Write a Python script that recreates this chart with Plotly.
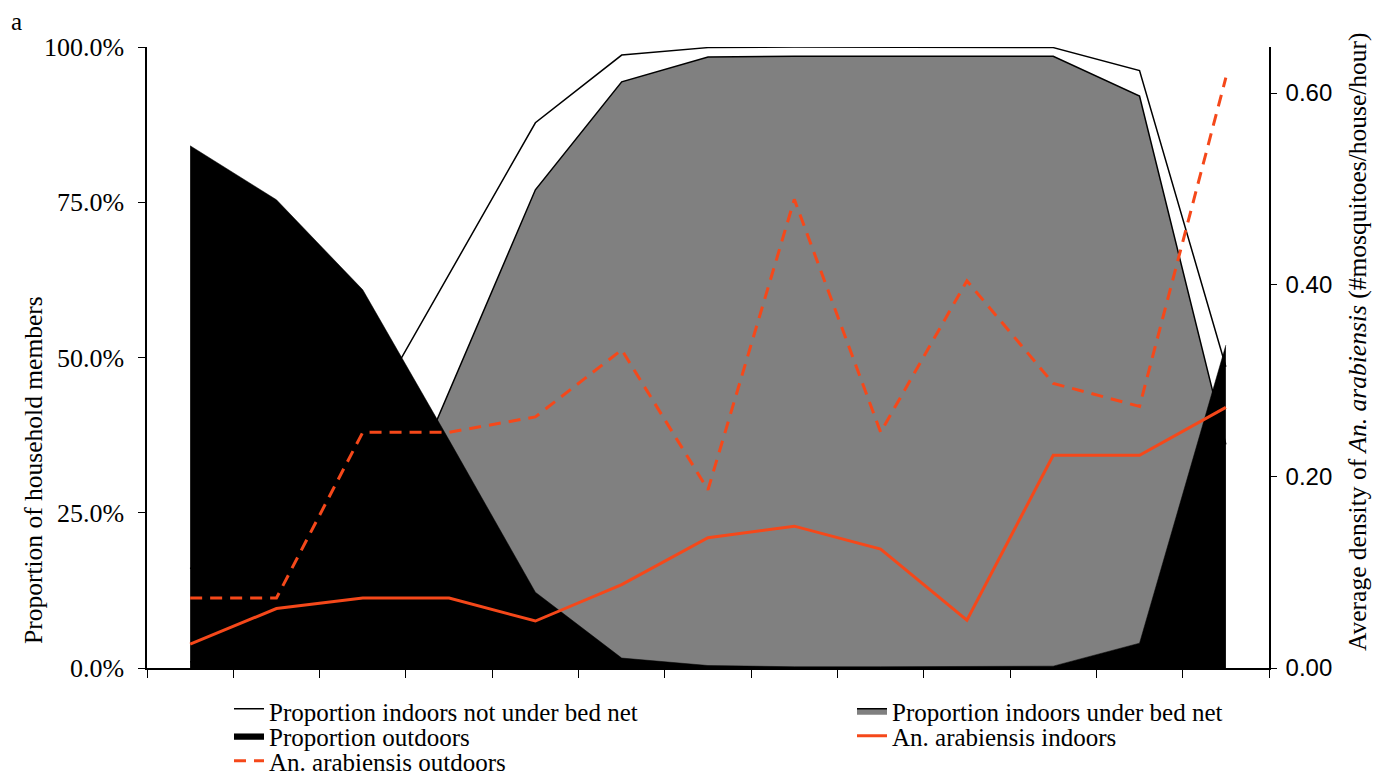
import plotly.graph_objects as go

# ---- data (13 hourly intervals, left to right) ----
slots = list(range(13))
indoors_not_under_net = [0.16, 0.246, 0.39, 0.635, 0.878, 0.987, 0.999, 1.0, 1.0, 1.0, 0.999, 0.962, 0.485]
indoors_under_net = [0.01, 0.03, 0.12, 0.444, 0.770, 0.944, 0.984, 0.985, 0.985, 0.985, 0.985, 0.921, 0.36]
outdoors = [0.841, 0.754, 0.609, 0.367, 0.122, 0.016, 0.004, 0.002, 0.002, 0.002, 0.003, 0.040, 0.520]
arab_indoors = [0.025, 0.062, 0.073, 0.073, 0.049, 0.087, 0.136, 0.148, 0.124, 0.050, 0.222, 0.222, 0.272]
arab_outdoors = [0.073, 0.073, 0.246, 0.246, 0.262, 0.332, 0.186, 0.489, 0.246, 0.404, 0.297, 0.273, 0.616]
left_ticks = [0, 0.25, 0.5, 0.75, 1.0]
right_ticks = [0, 0.2, 0.4, 0.6]
left_title = "Proportion of household members"
right_title = "Average density of <i>An. arabiensis</i> (#mosquitoes/house/hour)"

RED = "#F5481A"
SERIF = "Liberation Serif"
SANS = "Liberation Sans"

# page has an 8px body margin; lay the figure out in page coordinates
OFF = 8
W, H = 1382 - OFF, 776 - OFF
PLOT_L, PLOT_R, PLOT_T, PLOT_B = 147, 1269, 47, 668   # page pixels
ML, MT = PLOT_L - OFF, PLOT_T - OFF
MR, MB = W - (PLOT_R - OFF), H - (PLOT_B - OFF)
PW, PH = PLOT_R - PLOT_L, PLOT_B - PLOT_T


def px_x(px):
    return (px - PLOT_L) / PW


def px_y(py):
    return (PLOT_B - py) / PH


fig = go.Figure()
fig.add_trace(go.Scatter(x=slots, y=indoors_not_under_net, name="Proportion indoors not under bed net",
                         mode="lines", fill="tozeroy", fillcolor="white",
                         line=dict(color="black", width=1.5), legend="legend"))
fig.add_trace(go.Scatter(x=slots, y=indoors_under_net, name="Proportion indoors under bed net",
                         mode="lines", fill="tozeroy", fillcolor="#808080",
                         line=dict(color="black", width=1.5), legend="legend2"))
fig.add_trace(go.Scatter(x=slots, y=outdoors, name="Proportion outdoors",
                         mode="lines", fill="tozeroy", fillcolor="black",
                         line=dict(color="black", width=0.5), legend="legend3"))
fig.add_trace(go.Scatter(x=slots, y=arab_indoors, name="An. arabiensis indoors", yaxis="y2",
                         mode="lines", line=dict(color=RED, width=3), legend="legend4"))
fig.add_trace(go.Scatter(x=slots, y=arab_outdoors, name="An. arabiensis outdoors", yaxis="y2",
                         mode="lines", line=dict(color=RED, width=3, dash="12px,8px"), legend="legend5"))

bounds = [i - 0.5 for i in range(len(slots) + 1)]

leg_common = dict(orientation="v", xanchor="left", yanchor="middle", bgcolor="rgba(0,0,0,0)",
                  borderwidth=0, font=dict(family=SERIF, size=25, color="black"))
col1, col2 = 229, 852
row1, row2, row3 = 711, 736, 761

fig.update_layout(
    width=W, height=H,
    margin=dict(l=ML, r=MR, t=MT, b=MB, autoexpand=False),
    plot_bgcolor="white", paper_bgcolor="white",
    showlegend=True,
    xaxis=dict(range=[-0.5, len(slots) - 0.5], tickmode="array", tickvals=bounds,
               showticklabels=False, ticks="outside", ticklen=8, tickcolor="black", tickwidth=1.2,
               showline=True, linecolor="black", linewidth=1.5, showgrid=False, zeroline=False),
    yaxis=dict(range=[0, 1], tickmode="array", tickvals=left_ticks, tickformat=".1%",
               ticks="outside", ticklen=7, tickcolor="black", tickwidth=1.2, ticklabelstandoff=9,
               showline=True, linecolor="black", linewidth=1.5, showgrid=False, zeroline=False,
               tickfont=dict(family=SERIF, size=26, color="black")),
    yaxis2=dict(range=[0, 0.648], overlaying="y", side="right", anchor="x",
                tickmode="array", tickvals=right_ticks, tickformat=".2f",
                ticks="outside", ticklen=6, tickcolor="black", tickwidth=1.2, ticklabelstandoff=4,
                showline=True, linecolor="black", linewidth=1.5, showgrid=False, zeroline=False,
                tickfont=dict(family=SANS, size=24, color="black")),
    legend=dict(leg_common, x=px_x(col1), y=px_y(row1)),
    legend2=dict(leg_common, x=px_x(col2), y=px_y(row1)),
    legend3=dict(leg_common, x=px_x(col1), y=px_y(row2)),
    legend4=dict(leg_common, x=px_x(col2), y=px_y(row2)),
    legend5=dict(leg_common, x=px_x(col1), y=px_y(row3)),
    annotations=[
        dict(text="a", xref="paper", yref="paper", x=px_x(9), y=px_y(6),
             xanchor="left", yanchor="top", showarrow=False,
             font=dict(family=SERIF, size=25, color="black")),
        dict(text=left_title, xref="paper", yref="paper", x=px_x(33), y=px_y(470),
             xanchor="center", yanchor="middle", textangle=-90, showarrow=False,
             font=dict(family=SERIF, size=25.5, color="black")),
        dict(text=right_title, xref="paper", yref="paper", x=px_x(1357), y=px_y(342),
             xanchor="center", yanchor="middle", textangle=-90, showarrow=False,
             font=dict(family=SERIF, size=25.5, color="black")),
    ],
)

fig.write_html("out.html")
